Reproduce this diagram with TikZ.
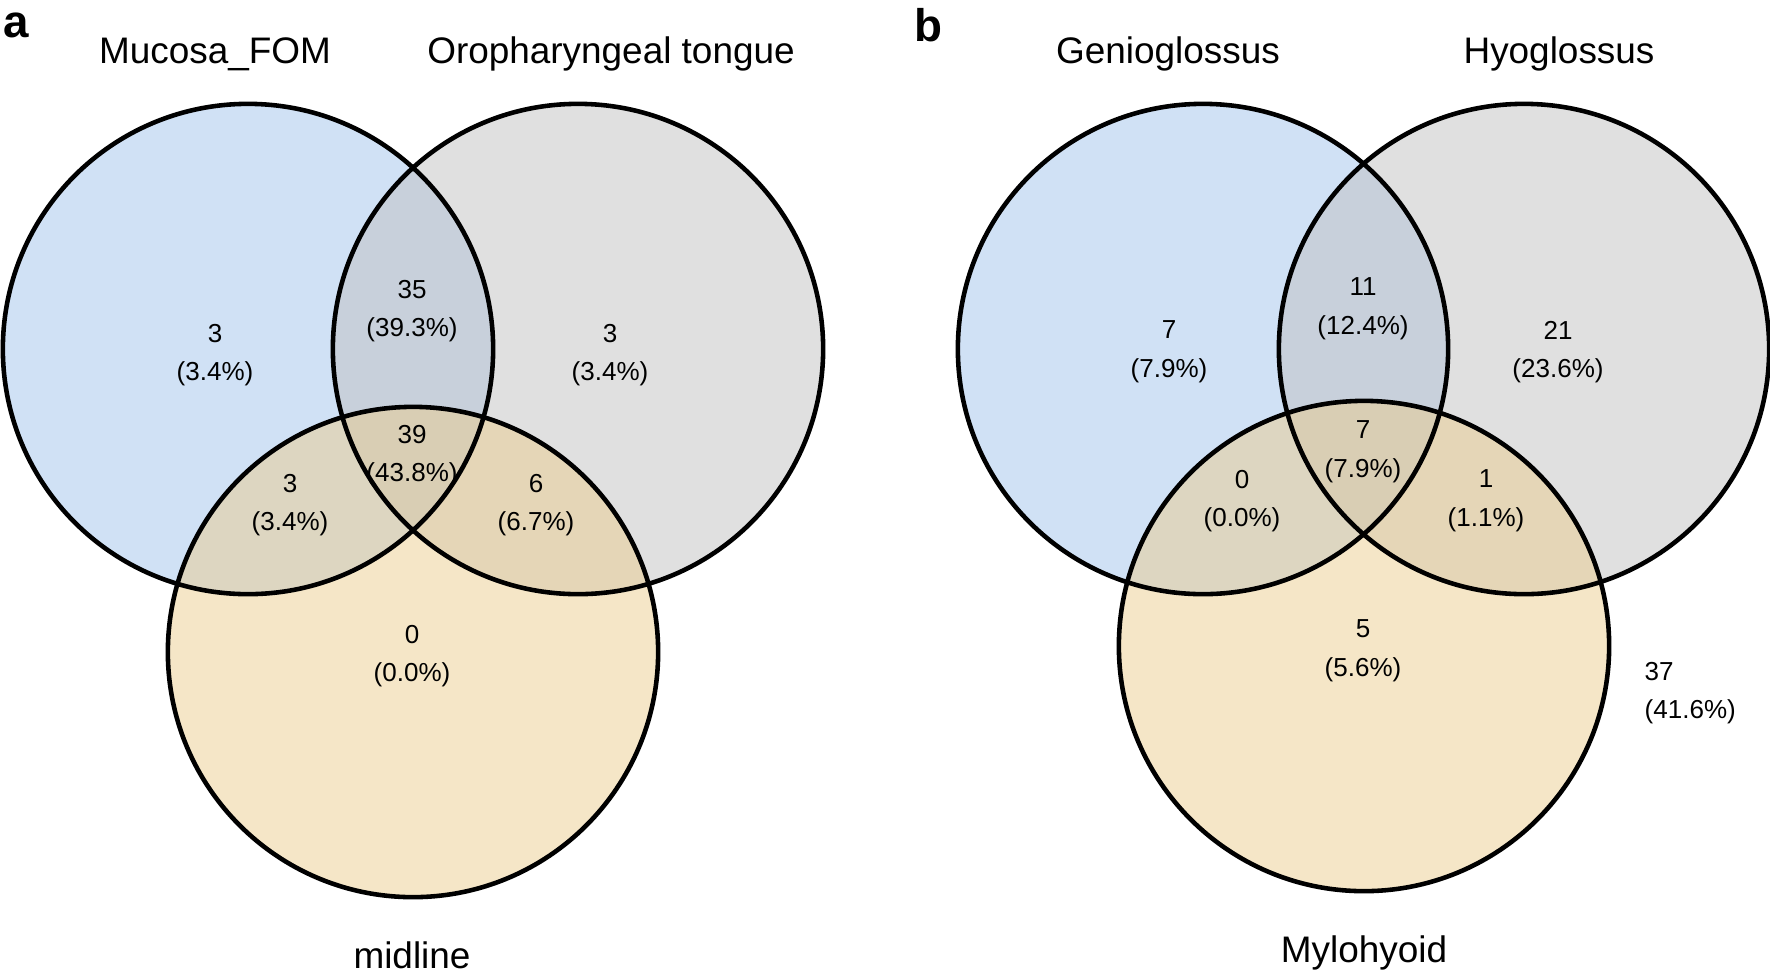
\documentclass[tikz,border=0pt]{standalone}
\usepackage{fontspec}
\setmainfont{Liberation Sans}
\usepackage{tikz}
\definecolor{setblue}{RGB}{161,195,235}
\definecolor{setgrey}{RGB}{193,193,193}
\definecolor{setwheat}{RGB}{235,205,143}
\tikzset{
  vset/.style = {fill opacity=0.5},
  vline/.style = {draw=black, line width=1.3pt},
  vtitle/.style = {anchor=base, inner sep=0pt, font=\fontsize{10.5}{12}\selectfont},
  vcount/.style = {align=center, inner sep=0pt, font=\fontsize{7.4}{11}\selectfont},
  vpanel/.style = {inner sep=0pt, font=\fontsize{13}{15}\selectfont\bfseries},
}

\begin{document}
\begin{tikzpicture}[x=0.01cm, y=-0.01cm]
\useasboundingbox (0,0) rectangle (1770,975);
% set centres, panel a then panel b
\coordinate (fom) at (248,349);
\coordinate (oro) at (578,349);
\coordinate (mid) at (413,652);
\coordinate (gen) at (1203,349);
\coordinate (hyo) at (1524,349);
\coordinate (myl) at (1364,646);

\foreach \c/\col in {fom/setblue, oro/setgrey, mid/setwheat, gen/setblue, hyo/setgrey, myl/setwheat}
  \fill[vset, \col] (\c) circle (2.45cm);
\foreach \c in {fom, oro, mid, gen, hyo, myl}
  \draw[vline] (\c) circle (2.45cm);

% panel a
\node[vpanel] (pa) at (16,25) {a};
\node[vtitle] (tfom) at (215,63) {Mucosa\_FOM};
\node[vtitle] (toro) at (611,63) {Oropharyngeal tongue};
\node[vtitle] (tmid) at (412,968) {midline};
\node[vcount] (fom1) at (215,355) {3\\(3.4\%)};
\node[vcount] (fomoro) at (412,311) {35\\(39.3\%)};
\node[vcount] (oro1) at (610,355) {3\\(3.4\%)};
\node[vcount] (all3a) at (412,456) {39\\(43.8\%)};
\node[vcount] (fommid) at (290,505) {3\\(3.4\%)};
\node[vcount] (oromid) at (536,505) {6\\(6.7\%)};
\node[vcount] (mid1) at (412,656) {0\\(0.0\%)};

% panel b
\node[vpanel] (pb) at (928,25) {b};
\node[vtitle] (tgen) at (1168,63) {Genioglossus};
\node[vtitle] (thyo) at (1559,63) {Hyoglossus};
\node[vtitle] (tmyl) at (1364,962) {Mylohyoid};
\node[vcount] (gen1) at (1169,352) {7\\(7.9\%)};
\node[vcount] (genhyo) at (1363,309) {11\\(12.4\%)};
\node[vcount] (hyo1) at (1558,352) {21\\(23.6\%)};
\node[vcount] (all3b) at (1363,452) {7\\(7.9\%)};
\node[vcount] (genmyl) at (1242,501) {0\\(0.0\%)};
\node[vcount] (hyomyl) at (1486,501) {1\\(1.1\%)};
\node[vcount] (myl1) at (1363,651) {5\\(5.6\%)};
\node[vcount, align=left, anchor=west] (none) at (1644,693) {37\\(41.6\%)};
\end{tikzpicture}
\end{document}
